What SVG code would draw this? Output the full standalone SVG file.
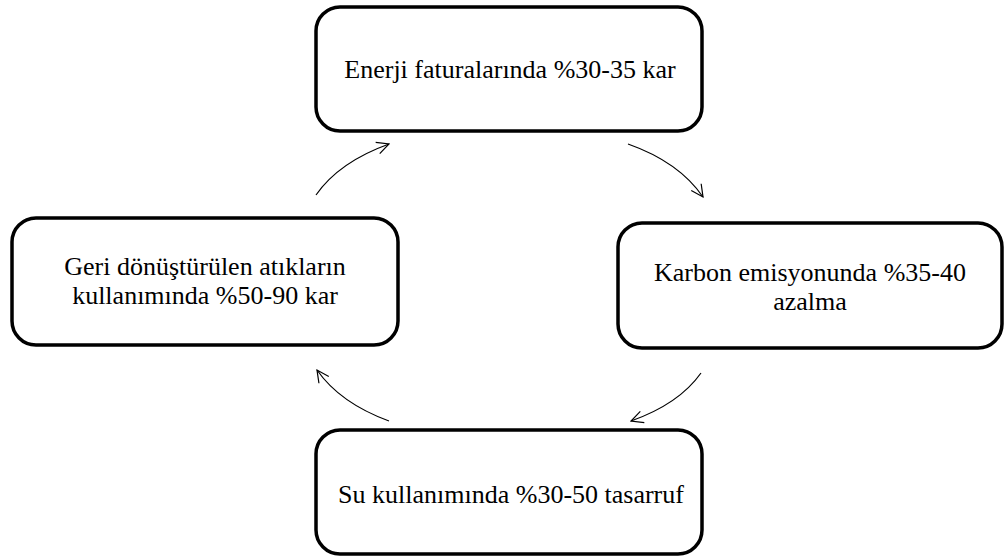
<svg xmlns="http://www.w3.org/2000/svg" width="1005" height="557" viewBox="0 0 1005 557">
  <style>
    .box { fill: #ffffff; stroke: #000000; stroke-width: 3.5; }
    .link { fill: none; stroke: #000000; stroke-width: 1.2; marker-end: url(#open-arrow); }
  </style>
  <defs>
    <marker id="open-arrow" viewBox="0 0 14 14" refX="13" refY="7" markerWidth="14" markerHeight="14" markerUnits="userSpaceOnUse" orient="auto">
      <path d="M1,1 L13,7 L1,13" fill="none" stroke="#000000" stroke-width="1.2"/>
    </marker>
  </defs>
  <rect width="1005" height="557" fill="#ffffff"/>

  <g font-family="'Liberation Serif', 'Times New Roman', 'DejaVu Serif', serif" font-size="26" fill="#000000" text-anchor="middle">
    <g id="node-energy">
      <rect class="box" x="316" y="7" width="386" height="124" rx="24" ry="24"/>
      <text x="510" y="78">Enerji faturalarında %30-35 kar</text>
    </g>

    <g id="node-carbon">
      <rect class="box" x="618" y="223" width="384" height="125" rx="24" ry="24"/>
      <text x="810" y="281">Karbon emisyonunda %35-40</text>
      <text x="810" y="310">azalma</text>
    </g>

    <g id="node-water">
      <rect class="box" x="316" y="430" width="386" height="124" rx="24" ry="24"/>
      <text x="511" y="503">Su kullanımında %30-50 tasarruf</text>
    </g>

    <g id="node-recycle">
      <rect class="box" x="12" y="218" width="386" height="127" rx="24" ry="24"/>
      <text x="205" y="275">Geri dönüştürülen atıkların</text>
      <text x="205" y="304">kullanımında %50-90 kar</text>
    </g>
  </g>

  <g id="connectors">
    <path class="link" d="M316,195 Q339,162 389,144"/>
    <path class="link" d="M628,144 Q679,162 703,197"/>
    <path class="link" d="M701,373 Q679,404 631,421"/>
    <path class="link" d="M389,421 Q340,403 317,370"/>
  </g>
</svg>
